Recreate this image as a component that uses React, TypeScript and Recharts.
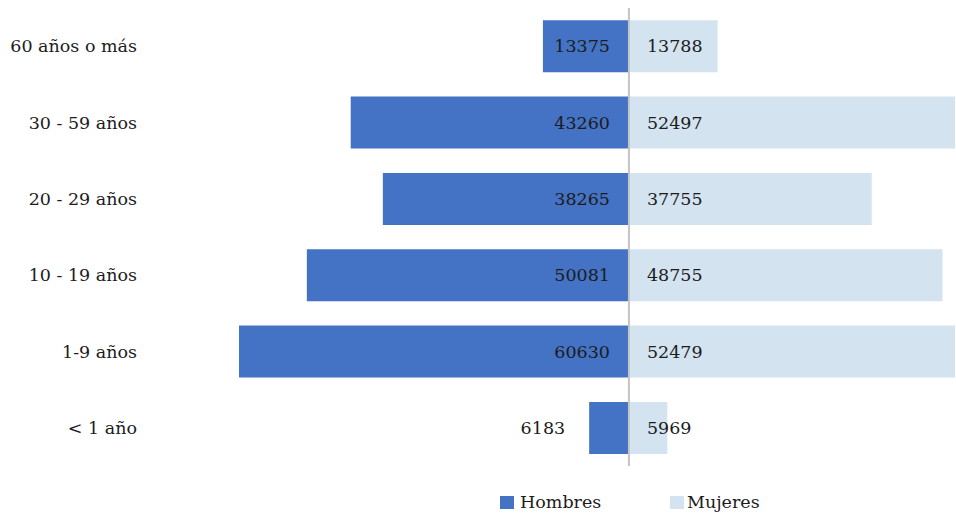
import React from 'react';
import { ComposedChart, Bar, XAxis, YAxis, ReferenceLine, LabelList } from 'recharts';

const categories = ['60 años o más', '30 - 59 años', '20 - 29 años', '10 - 19 años', '1-9 años', '< 1 año'];
const hombres = [13375, 43260, 38265, 50081, 60630, 6183];
const mujeres = [13788, 52497, 37755, 48755, 52479, 5969];
const seriesNames = ['Hombres', 'Mujeres'];

const data = categories.map((c, i) => ({ age: c, hombres: -hombres[i], mujeres: mujeres[i] }));

const FONT = '"DejaVu Serif", serif';
const TEXT = '#1c1c1c';
const C_H = '#4472C4';
const C_M = '#D3E3F0';

const YTick = (props: any) => {
  const { y, payload } = props;
  return (
    <text x={137} y={y} dy="0.35em" textAnchor="end" fontFamily={FONT} fontSize={17.5} fill={TEXT}>
      {payload.value}
    </text>
  );
};

const HLabel = (props: any) => {
  const { x, y, width, height, value } = props;
  const left = Math.min(x, x + width);
  const right = Math.max(x, x + width);
  const w = right - left;
  const v = Math.abs(value);
  const cy = y + height / 2;
  if (w < 70) {
    return (
      <text x={left - 24} y={cy} dy="0.35em" textAnchor="end" fontFamily={FONT} fontSize={17.5} fill={TEXT}>
        {v}
      </text>
    );
  }
  return (
    <text x={right - 19} y={cy} dy="0.35em" textAnchor="end" fontFamily={FONT} fontSize={17.5} fill={TEXT}>
      {v}
    </text>
  );
};

const MLabel = (props: any) => {
  const { x, y, width, height, value } = props;
  const left = Math.min(x, x + width);
  const cy = y + height / 2;
  return (
    <text x={left + 18} y={cy} dy="0.35em" textAnchor="start" fontFamily={FONT} fontSize={17.5} fill={TEXT}>
      {value}
    </text>
  );
};

export default function App() {
  return (
    <div style={{ position: 'absolute', left: 0, top: 0, width: 956, height: 514, background: '#fff' }}>
      <ComposedChart
        width={956}
        height={514}
        data={data}
        layout="vertical"
        stackOffset="sign"
        barCategoryGap="16%"
        margin={{ top: 8, right: 1, bottom: 48, left: 0 }}
      >
        <XAxis type="number" hide domain={[-60630, 50700]} allowDataOverflow />
        <YAxis
          type="category"
          dataKey="age"
          width={239}
          axisLine={false}
          tickLine={false}
          tick={<YTick />}
          interval={0}
        />
        <Bar dataKey="hombres" stackId="a" fill={C_H} isAnimationActive={false} name={seriesNames[0]}>
          <LabelList dataKey="hombres" content={<HLabel />} />
        </Bar>
        <Bar dataKey="mujeres" stackId="a" fill={C_M} isAnimationActive={false} name={seriesNames[1]}>
          <LabelList dataKey="mujeres" content={<MLabel />} />
        </Bar>
        <ReferenceLine x={0} stroke="#c4c4c4" strokeWidth={2} />
      </ComposedChart>
      <div style={{ position: 'absolute', left: 0, top: 492, width: 956, height: 20, fontFamily: FONT, fontSize: 17.5, color: TEXT }}>
        <div style={{ position: 'absolute', left: 500, top: 0, display: 'flex', alignItems: 'center', height: 20 }}>
          <span style={{ display: 'inline-block', width: 14, height: 13, background: C_H, marginRight: 6 }} />
          <span>{seriesNames[0]}</span>
        </div>
        <div style={{ position: 'absolute', left: 670, top: 0, display: 'flex', alignItems: 'center', height: 20 }}>
          <span style={{ display: 'inline-block', width: 14, height: 13, background: C_M, marginRight: 3 }} />
          <span>{seriesNames[1]}</span>
        </div>
      </div>
    </div>
  );
}
